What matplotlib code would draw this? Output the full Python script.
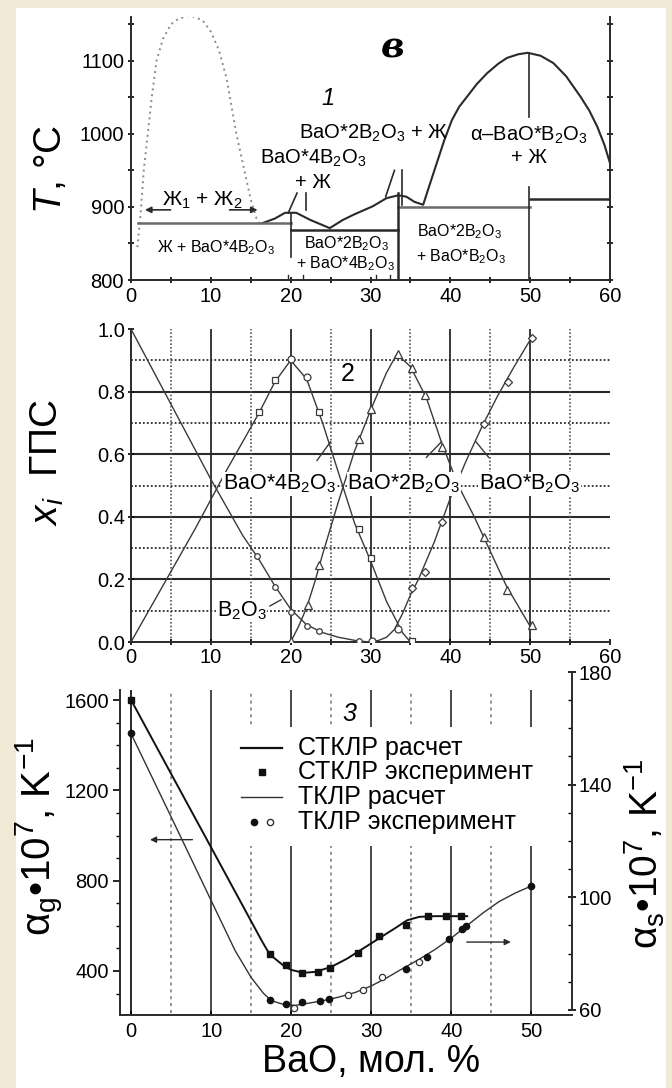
import matplotlib
matplotlib.use('Agg')
import matplotlib.pyplot as plt
from matplotlib.ticker import MultipleLocator
from matplotlib.patches import Rectangle

plt.rcParams['font.family'] = ['Liberation Sans', 'DejaVu Sans']
plt.rcParams['mathtext.fontset'] = 'custom'
plt.rcParams['mathtext.rm'] = 'Liberation Sans'
plt.rcParams['mathtext.it'] = 'Liberation Sans:italic'
plt.rcParams['mathtext.bf'] = 'Liberation Sans:bold'
plt.rcParams['mathtext.default'] = 'regular'

# ---- panel 1: phase diagram BaO - B2O3 ----
gap_x = [0.8, 1.2, 1.6, 2.1, 2.6, 3.2, 4.0, 5.0, 6.0, 7.5, 9.0, 10.0, 11.0, 12.0, 13.2, 14.2, 15.0, 15.7, 16.2]
gap_t = [845, 890, 950, 1000, 1050, 1100, 1130, 1150, 1158, 1162, 1155, 1140, 1115, 1075, 1000, 950, 910, 885, 875]

liq_x = [16.5, 18, 19.3, 20.7, 22.5, 24.9, 26.5, 28, 30.3, 32, 33.5, 34.5, 35.5, 36.6, 37.4, 38.3,
         39.2, 40.2, 41.1, 42.1, 43.3, 44.6, 46, 47.1, 48.5, 49.7, 51.3, 52.9, 54.5, 56.3, 57.4,
         58.4, 59.3, 60]
liq_t = [878, 884, 892, 892, 882, 871, 882, 890, 901, 912, 916, 914, 907, 903, 930, 960,
         990, 1019, 1037, 1051, 1068, 1083, 1096, 1104, 1109, 1111, 1107, 1097, 1079, 1051, 1032,
         1010, 985, 960]

# horizontal isotherms: (x start, x end, T)
iso_lines = [(0.9, 20, 878), (20, 33.4, 869), (33.4, 50, 900), (50, 60, 911)]
# vertical lines: (x, T bottom, T top)
vert_lines = [(20, 832, 892), (33.4, 800, 919), (49.8, 1023, 1111), (49.8, 800, 927)]
# leader lines to the labels: (x0, T0, x1, T1)
leaders1 = [(19.7, 892, 20.8, 919), (21.9, 896, 21.9, 919), (31.9, 914, 33.0, 950), (34.0, 903, 34.0, 950)]
marks_x = [19.7, 21.6, 30.7, 32.5]

# ---- panel 2: fractions of structural groups ----
b2o3_x = [0, 5, 10, 14, 16, 18, 20, 22, 24, 26, 28.5, 30]
b2o3_y = [1.0, 0.76, 0.52, 0.34, 0.265, 0.18, 0.105, 0.055, 0.03, 0.015, 0.003, 0]
b2o3_px = [15.8, 18.0, 20.1, 22.0, 23.6, 28.6]
b2o3_py = [0.274, 0.176, 0.096, 0.05, 0.034, 0.003]

b4_x = [0, 4, 8, 12, 16, 18, 20, 22, 24, 26, 28, 30, 32, 34, 35]
b4_y = [0, 0.18, 0.36, 0.55, 0.73, 0.83, 0.9, 0.84, 0.70, 0.54, 0.38, 0.26, 0.13, 0.03, 0]
b4_px = [16.0, 18.0, 23.5, 28.6, 30.1, 35.2]
b4_py = [0.736, 0.836, 0.734, 0.36, 0.269, 0.003]
b4_cx = [20.1, 22.0, 33.5]
b4_cy = [0.905, 0.846, 0.043]

b2_x = [20, 21, 22, 23, 24, 26, 28, 30, 32, 33.3, 35, 37, 39, 41, 43, 45, 47, 50]
b2_y = [0, 0.05, 0.11, 0.19, 0.28, 0.45, 0.61, 0.74, 0.86, 0.92, 0.88, 0.78, 0.63, 0.50, 0.40, 0.29, 0.18, 0.05]
b2_px = [20.1, 22.2, 23.6, 28.6, 30.1, 33.5, 35.2, 36.8, 38.9, 44.2, 47.1, 50.2]
b2_py = [0.003, 0.117, 0.245, 0.65, 0.744, 0.92, 0.875, 0.79, 0.624, 0.336, 0.165, 0.053]

b1_x = [30, 31, 32, 33, 34, 35, 36, 37, 38, 39, 40, 42, 44, 46, 48, 50]
b1_y = [0, 0.005, 0.015, 0.04, 0.09, 0.15, 0.2, 0.26, 0.32, 0.39, 0.46, 0.58, 0.69, 0.79, 0.88, 0.965]
b1_px = [35.2, 36.8, 39.0, 44.2, 47.2, 50.2]
b1_py = [0.174, 0.224, 0.384, 0.697, 0.832, 0.97]
b1_cx = [30.2]
b1_cy = [0.003]

# ---- panel 3: thermal expansion ----
g_x = [0, 5, 10, 15, 16.3, 17.3, 19, 20, 21.5, 23, 25, 27, 29, 31, 33, 34.5, 36, 38, 40, 42]
g_y = [1600, 1273, 947, 620, 535, 474, 425, 405, 392, 396, 418, 455, 500, 545, 590, 625, 640, 643, 643, 643]
g_px = [0, 17.3, 19.3, 21.4, 23.3, 24.8, 28.3, 31.0, 34.3, 37.1, 39.4, 41.2]
g_py = [1600, 474, 425, 390, 396, 415, 481, 555, 602, 643, 643, 643]

s_x = [0, 5, 10, 13, 15, 16.5, 17.5, 19, 20.5, 22, 24, 26, 28, 30, 32, 34, 36, 38, 40, 42, 44, 46, 48, 50]
s_y = [158, 128.5, 98.8, 81, 71.5, 66, 63.3, 62, 61.6, 62.3, 63.3, 64.6, 66.2, 68.5, 71.5, 74.8, 78,
       81.5, 85.5, 90, 94.5, 98.5, 101.5, 104]
s_fx = [0, 17.3, 19.3, 21.4, 23.6, 24.7, 34.3, 37.0, 39.7, 41.3, 41.9, 50.0]
s_fy = [158.2, 63.5, 62.0, 62.7, 63.2, 63.9, 74.7, 78.8, 85.1, 88.8, 89.8, 104.1]
s_ox = [20.3, 27.1, 29.0, 31.4, 36.0]
s_oy = [60.6, 65.3, 67.1, 71.8, 77.1]

legend_labels = ['СТКЛР расчет', 'СТКЛР эксперимент', 'ТКЛР расчет', 'ТКЛР эксперимент']

W, H = 672, 1088
fig = plt.figure(figsize=(W / 100, H / 100), dpi=100)
fig.patch.set_facecolor('#efe9d6')
fig.patches.append(Rectangle((16 / W, 0), (W - 22) / W, (H - 8) / H, transform=fig.transFigure,
                             facecolor='white', edgecolor='none', zorder=-10))

dark = '#2a2a2a'
grey = '#6a6a6a'
tick_fs = 14.5

# ================= panel 1 =================
ax1 = fig.add_axes([131 / W, 1 - 280 / H, 479 / W, 263 / H])
ax1.set_facecolor('none')
ax1.set_xlim(0, 60)
ax1.set_ylim(800, 1160)
ax1.spines['top'].set_visible(False)
for s in ['left', 'right', 'bottom']:
    ax1.spines[s].set_color(dark)
    ax1.spines[s].set_linewidth(1.4)
ax1.set_xticks(range(0, 61, 10))
ax1.set_yticks([800, 900, 1000, 1100])
ax1.xaxis.set_minor_locator(MultipleLocator(5))
ax1.yaxis.set_minor_locator(MultipleLocator(50))
ax1.tick_params(which='both', direction='inout', length=4, width=1.2, right=True,
                labelsize=tick_fs, pad=3)

ax1.plot(gap_x, gap_t, ls=(0, (1, 2)), color='#8a8a8a', lw=1.4)
ax1.plot(liq_x, liq_t, color=dark, lw=1.5)
for x0, x1, t in iso_lines:
    ax1.plot([x0, x1], [t, t], color=grey if t in (878, 900) else dark, lw=1.8)
for x, t0, t1 in vert_lines:
    ax1.plot([x, x], [t0, t1], color=dark, lw=1.8 if x == 33.4 else 1.2)
for x0, t0, x1, t1 in leaders1:
    ax1.plot([x0, x1], [t0, t1], color=dark, lw=1.2)
for x in marks_x:
    ax1.plot([x, x], [800, 807], color=dark, lw=1)

ax1.annotate('', xy=(1.4, 896), xytext=(5.3, 896),
             arrowprops=dict(arrowstyle='-|>', color=dark, lw=1.2, mutation_scale=9))
ax1.annotate('', xy=(16.2, 896), xytext=(12.0, 896),
             arrowprops=dict(arrowstyle='-|>', color=dark, lw=1.2, mutation_scale=9))

big = 14.5
small = 11.5
ax1.text(9.0, 909, 'Ж$_1$ + Ж$_2$', ha='center', va='center', fontsize=15)
ax1.text(10.7, 844, 'Ж + BaO*4B$_2$O$_3$', ha='center', va='center', fontsize=small)
ax1.text(22.8, 966, 'BaO*4B$_2$O$_3$', ha='center', va='center', fontsize=big)
ax1.text(22.8, 934, '+ Ж', ha='center', va='center', fontsize=big)
ax1.text(30.4, 1001, 'BaO*2B$_2$O$_3$ + Ж', ha='center', va='center', fontsize=big)
ax1.text(49.8, 998, 'α–BaO*B$_2$O$_3$', ha='center', va='center', fontsize=big)
ax1.text(49.8, 967, '+ Ж', ha='center', va='center', fontsize=big,
         bbox=dict(facecolor='white', edgecolor='none', pad=0.5))
ax1.text(27.0, 850, 'BaO*2B$_2$O$_3$', ha='center', va='center', fontsize=small)
ax1.text(26.8, 823, '+ BaO*4B$_2$O$_3$', ha='center', va='center', fontsize=small)
ax1.text(41.1, 866, 'BaO*2B$_2$O$_3$', ha='center', va='center', fontsize=small)
ax1.text(41.3, 832, '+ BaO*B$_2$O$_3$', ha='center', va='center', fontsize=small)
ax1.text(32.8, 1118, 'в', ha='center', va='center', fontsize=26, fontweight='bold',
         fontstyle='italic', family='DejaVu Serif')
ax1.text(24.7, 1049, '1', ha='center', va='center', fontsize=17, fontstyle='italic')
ax1.set_ylabel(r'$\mathit{T}$, °C', fontsize=28)
ax1.yaxis.set_label_coords(-0.13, 0.42)

# ================= panel 2 =================
ax2 = fig.add_axes([131 / W, 1 - 642 / H, 479 / W, 313 / H])
ax2.set_facecolor('none')
ax2.set_xlim(0, 60)
ax2.set_ylim(0, 1.0)
for s in ['top', 'right']:
    ax2.spines[s].set_visible(False)
for s in ['left', 'bottom']:
    ax2.spines[s].set_color(dark)
    ax2.spines[s].set_linewidth(1.4)
ax2.set_xticks(range(0, 61, 10))
ax2.set_yticks([0, 0.2, 0.4, 0.6, 0.8, 1.0])
ax2.set_yticklabels(['0.0', '0.2', '0.4', '0.6', '0.8', '1.0'])
ax2.xaxis.set_minor_locator(MultipleLocator(5))
ax2.tick_params(which='both', direction='inout', length=4, width=1.2, labelsize=tick_fs, pad=2)

for y in [0.2, 0.4, 0.6, 0.8]:
    ax2.axhline(y, color=dark, lw=1.5, zorder=1)
for y in [0.1, 0.3, 0.5, 0.7, 0.9]:
    ax2.axhline(y, color=dark, lw=1.3, ls=(0, (1, 1.2)), zorder=1)
for x in [10, 20, 30, 40, 50]:
    ax2.axvline(x, color=dark, lw=1.3, zorder=1)
for x in [5, 15, 25, 35, 45, 55]:
    ax2.axvline(x, color='#555555', lw=1.2, ls=(0, (1, 1.2)), zorder=1)

lc = '#3a3a3a'
mk = dict(ls='none', mfc='white', mec=lc, mew=0.9, zorder=4)
ax2.plot(b2o3_x, b2o3_y, color=lc, lw=1.0, zorder=3)
ax2.plot(b4_x, b4_y, color=lc, lw=1.0, zorder=3)
ax2.plot(b2_x, b2_y, color=lc, lw=1.0, zorder=3)
ax2.plot(b1_x, b1_y, color=lc, lw=1.0, zorder=3)
ax2.plot(b2o3_px, b2o3_py, marker='o', ms=4, **mk)
ax2.plot(b4_px, b4_py, marker='s', ms=5, **mk)
ax2.plot(b4_cx, b4_cy, marker='o', ms=5, **mk)
ax2.plot(b2_px, b2_py, marker='^', ms=6, **mk)
ax2.plot(b1_px, b1_py, marker='D', ms=4.5, **mk)
ax2.plot(b1_cx, b1_cy, marker='o', ms=5, **mk)

lab_box = dict(facecolor='white', edgecolor='none', pad=0.3)
ax2.text(18.6, 0.505, 'BaO*4B$_2$O$_3$', ha='center', va='center', fontsize=15.5, bbox=lab_box, zorder=5)
ax2.text(34.2, 0.505, 'BaO*2B$_2$O$_3$', ha='center', va='center', fontsize=15.5, bbox=lab_box, zorder=5)
ax2.text(49.9, 0.505, 'BaO*B$_2$O$_3$', ha='center', va='center', fontsize=15.5, bbox=lab_box, zorder=5)
ax2.text(13.9, 0.10, 'B$_2$O$_3$', ha='center', va='center', fontsize=15.5, bbox=lab_box, zorder=5)
for x0, y0, x1, y1 in [(23.3, 0.58, 25.0, 0.64), (37.0, 0.59, 38.9, 0.64),
                       (44.8, 0.59, 43.2, 0.64), (17.4, 0.115, 18.8, 0.135)]:
    ax2.plot([x0, x1], [y0, y1], color=lc, lw=1.0, zorder=4)
ax2.text(27.1, 0.855, '2', ha='center', va='center', fontsize=18, zorder=5)
ax2.set_ylabel(r'$\mathit{x_i}$  ГПС', fontsize=28)
ax2.yaxis.set_label_coords(-0.135, 0.575)

# ================= panel 3 =================
ax3 = fig.add_axes([120 / W, 1 - 1015 / H, 452 / W, 343 / H])
ax3.set_xlim(-1.4, 55.1)
ax3.set_ylim(205, 1725)
ax3.spines['top'].set_visible(False)
ax3.spines['right'].set_visible(False)
for s in ['left', 'bottom']:
    ax3.spines[s].set_color(dark)
    ax3.spines[s].set_linewidth(1.4)
ax3.spines['left'].set_bounds(205, 1645)
ax3.set_xticks(range(0, 51, 10))
ax3.set_yticks([400, 800, 1200, 1600])
ax3.set_yticks(range(300, 1601, 100), minor=True)
ax3.tick_params(which='major', direction='out', length=5, width=1.2, labelsize=tick_fs, pad=3)
ax3.tick_params(which='minor', direction='out', length=3, width=1.0)
ax3.tick_params(axis='x', direction='in', length=3, pad=5)

ax3.vlines([0], 205, 1645, color=dark, lw=1.4, zorder=1)
ax3.vlines([10, 20, 30, 40, 50], 205, 1645, color=dark, lw=1.2, zorder=1)
ax3.vlines([5, 15, 25, 35, 45], 215, 1645, color='#777777', lw=1.1, ls=(0, (2, 2.5)), zorder=1)

ax3.plot(g_x, g_y, color='#111111', lw=1.4, zorder=3)
ax3.plot(g_px, g_py, ls='none', marker='s', ms=4.5, color='#111111', zorder=4)
ax3.annotate('', xy=(2.0, 982), xytext=(8.0, 982),
             arrowprops=dict(arrowstyle='-|>', color=dark, lw=1.0, mutation_scale=9))
ax3.text(27.3, 1541, '3', ha='center', va='center', fontsize=18, fontstyle='italic',
         bbox=dict(facecolor='white', edgecolor='none', pad=1), zorder=5)
ax3.set_xlabel('BaO, мол. %', fontsize=27)
ax3.xaxis.set_label_coords(0.555, -0.085)
ax3.set_ylabel('α$_g$•10$^7$, K$^{-1}$', fontsize=29)
ax3.yaxis.set_label_coords(-0.12, 0.52)

# legend drawn by hand on a white patch that interrupts the grid
ax3.add_patch(Rectangle((13.3, 952), 38.6, 529, facecolor='white', edgecolor='none', zorder=2))
rows = [1388, 1282, 1172, 1062]
ax3.plot([13.7, 18.8], [rows[0], rows[0]], color='#111111', lw=1.6, zorder=5)
ax3.plot([16.3], [rows[1]], ls='none', marker='s', ms=4, color='#111111', zorder=5)
ax3.plot([13.7, 18.8], [rows[2], rows[2]], color='#333333', lw=1.0, zorder=5)
ax3.plot([15.3], [rows[3]], ls='none', marker='o', ms=4.5, color='#111111', zorder=5)
ax3.plot([17.4], [rows[3]], ls='none', marker='o', ms=4.5, mfc='white', mec='#333333', zorder=5)
for r, lab in zip(rows, legend_labels):
    ax3.text(20.9, r, lab, ha='left', va='center', fontsize=18, zorder=6)

ax3r = ax3.twinx()
ax3r.set_ylim(58.2, 180)
for s in ['top', 'left', 'bottom']:
    ax3r.spines[s].set_visible(False)
ax3r.spines['right'].set_color(dark)
ax3r.spines['right'].set_linewidth(1.4)
ax3r.spines['right'].set_bounds(60, 180)
ax3r.set_yticks([60, 100, 140, 180])
ax3r.yaxis.set_minor_locator(MultipleLocator(10))
ax3r.tick_params(which='major', direction='inout', length=6, width=1.2, labelsize=tick_fs, pad=2)
ax3r.tick_params(which='minor', direction='in', length=3, width=1.0)
ax3r.plot(s_x, s_y, color='#333333', lw=1.0, zorder=3)
ax3r.plot(s_fx, s_fy, ls='none', marker='o', ms=4.5, color='#111111', zorder=4)
ax3r.plot(s_ox, s_oy, ls='none', marker='o', ms=4.5, mfc='white', mec='#333333', mew=0.9, zorder=4)
ax3r.annotate('', xy=(47.8, 84.1), xytext=(41.6, 84.1),
              arrowprops=dict(arrowstyle='-|>', color=dark, lw=1.0, mutation_scale=9))
ax3r.set_ylabel('α$_s$•10$^7$, K$^{-1}$', fontsize=28)
ax3r.yaxis.set_label_coords(1.112, 0.47)

fig.savefig('out.png', dpi=100, facecolor=fig.get_facecolor())
